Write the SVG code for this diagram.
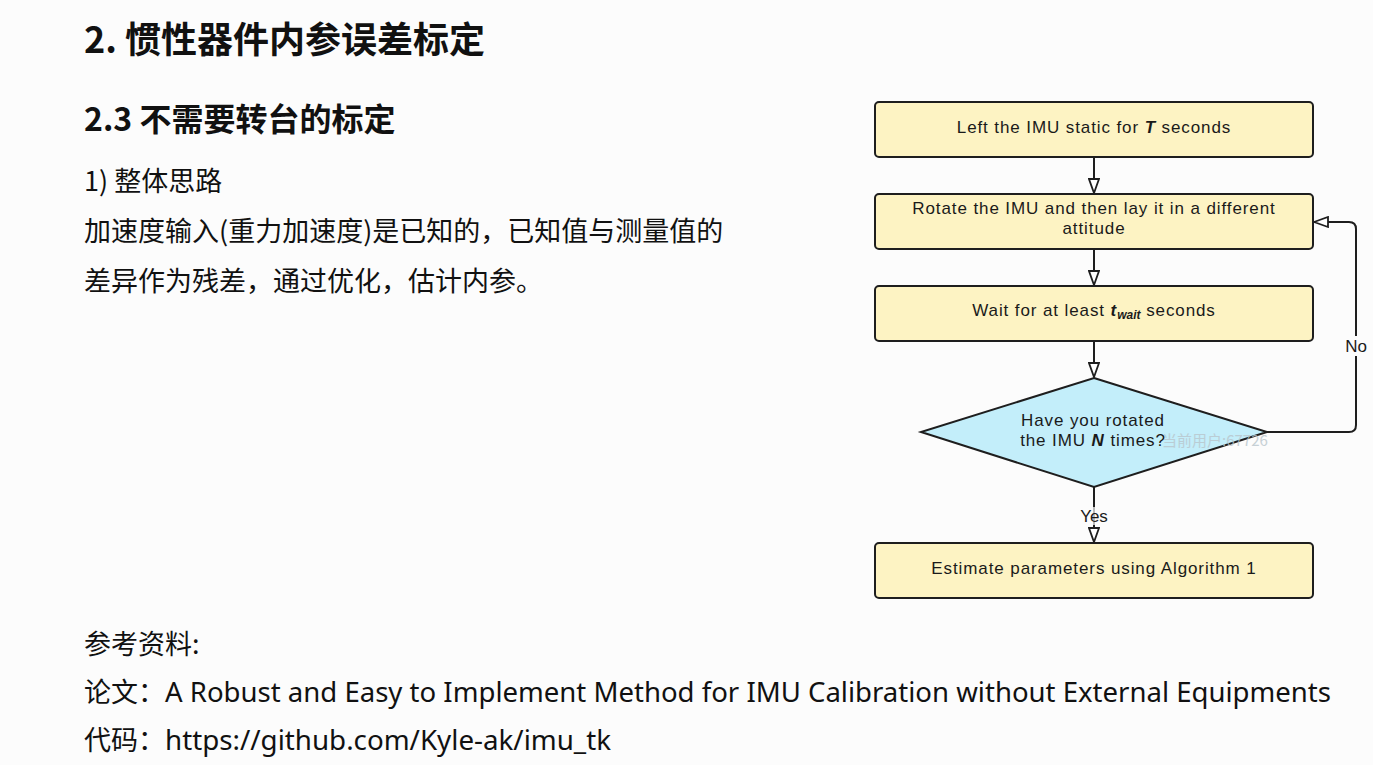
<svg xmlns="http://www.w3.org/2000/svg" width="1373" height="765" viewBox="0 0 1373 765">
<defs>
<style>
.bg{fill:#fcfcfc}
.cjk{font-family:"Noto Sans CJK SC","Noto Sans",sans-serif;fill:#111}
.en{font-family:"Noto Sans","Open Sans","Noto Sans CJK SC",sans-serif;fill:#111}
.box{fill:#fdf3c3;stroke:#1e1e1e;stroke-width:2}
.dia{fill:#c3eefa;stroke:#1e1e1e;stroke-width:2}
.ft{font-family:"Liberation Sans",Arial,sans-serif;font-size:17px;letter-spacing:0.9px;fill:#1a1a1a;text-anchor:middle}
.conn{fill:none;stroke:#1e1e1e;stroke-width:2}
.lbl{font-family:"Liberation Sans",Arial,sans-serif;font-size:17px;fill:#1a1a1a;text-anchor:middle}
.wm{font-family:"Noto Sans CJK SC","Liberation Sans",sans-serif;font-size:15px;fill:#b9c6cc;opacity:0.8}
</style>
<marker id="tri" viewBox="0 0 16 12" refX="15" refY="6" markerWidth="16" markerHeight="12" markerUnits="userSpaceOnUse" orient="auto">
<path d="M1,1 L15,6 L1,11 Z" fill="#ffffff" stroke="#1e1e1e" stroke-width="1.8" stroke-linejoin="miter"/>
</marker>
</defs>
<rect class="bg" x="0" y="0" width="1373" height="765"/>

<g id="text-left">
<text class="cjk" x="84" y="53" font-size="36" font-weight="bold">2. 惯性器件内参误差标定</text>
<text class="cjk" x="84" y="131" font-size="32" font-weight="bold">2.3 不需要转台的标定</text>
<text class="cjk" x="84" y="191" font-size="27">1) 整体思路</text>
<text class="cjk" x="84" y="241" font-size="27">加速度输入(重力加速度)是已知的，已知值与测量值的</text>
<text class="cjk" x="84" y="291" font-size="27">差异作为残差，通过优化，估计内参。</text>
<text class="cjk" x="84" y="654" font-size="27">参考资料:</text>
<text class="cjk" x="84" y="702" font-size="27">论文：<tspan class="en" textLength="1166" lengthAdjust="spacingAndGlyphs">A Robust and Easy to Implement Method for IMU Calibration without External Equipments</tspan></text>
<text class="cjk" x="84" y="750" font-size="27">代码：<tspan class="en" textLength="446" lengthAdjust="spacingAndGlyphs">https://github.com/Kyle-ak/imu_tk</tspan></text>
</g>

<g id="connectors">
<line class="conn" x1="1094" y1="157" x2="1094" y2="193" marker-end="url(#tri)"/>
<line class="conn" x1="1094" y1="249" x2="1094" y2="285" marker-end="url(#tri)"/>
<line class="conn" x1="1094" y1="341" x2="1094" y2="377" marker-end="url(#tri)"/>
<line class="conn" x1="1094" y1="487" x2="1094" y2="542" marker-end="url(#tri)"/>
<path class="conn" d="M1267,432 H1349 Q1356,432 1356,425 V229 Q1356,222 1349,222 H1314" marker-end="url(#tri)"/>
<rect x="1342" y="336" width="28" height="20" fill="#fcfcfc"/>
<text class="lbl" x="1356" y="352">No</text>
<rect x="1077" y="507" width="34" height="18" fill="#fcfcfc" opacity="0.7"/>
<text class="lbl" x="1094" y="522">Yes</text>
</g>

<g id="node-static">
<rect class="box" x="875" y="102" width="438" height="55" rx="4"/>
<text class="ft" x="1094" y="133">Left the IMU static for <tspan font-weight="bold" font-style="italic">T</tspan> seconds</text>
</g>

<g id="node-rotate">
<rect class="box" x="875" y="194" width="438" height="55" rx="4"/>
<text class="ft" x="1094" y="214">Rotate the IMU and then lay it in a different</text>
<text class="ft" x="1094" y="234">attitude</text>
</g>

<g id="node-wait">
<rect class="box" x="875" y="286" width="438" height="55" rx="4"/>
<text class="ft" x="1094" y="316">Wait for at least <tspan font-weight="bold" font-style="italic">t</tspan><tspan font-weight="bold" font-style="italic" font-size="12" letter-spacing="0" dy="3">wait</tspan><tspan dy="-3"> seconds</tspan></text>
</g>

<g id="node-decision">
<polygon class="dia" points="1094,378 1267,432 1094,487 921,432"/>
<text class="ft" x="1093" y="426">Have you rotated</text>
<text class="ft" x="1093" y="446">the IMU <tspan font-weight="bold" font-style="italic">N</tspan> times?</text>
<text class="wm" x="1162" y="446">当前用户:67726</text>
</g>

<g id="node-estimate">
<rect class="box" x="875" y="543" width="438" height="55" rx="4"/>
<text class="ft" x="1094" y="574">Estimate parameters using Algorithm 1</text>
</g>
</svg>
